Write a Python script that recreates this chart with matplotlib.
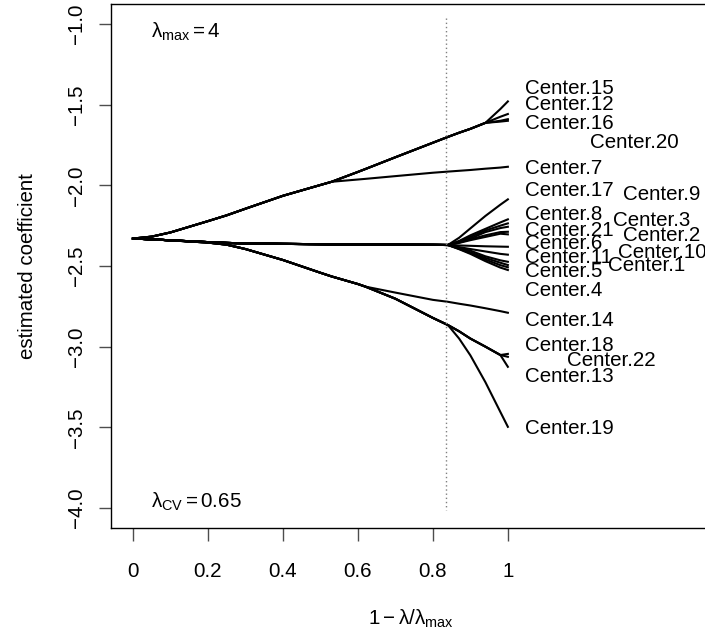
import numpy as np
import matplotlib
matplotlib.use("Agg")
import matplotlib.pyplot as plt

plt.rcParams["font.family"] = ["Liberation Sans", "DejaVu Sans"]
plt.rcParams["mathtext.fontset"] = "custom"
plt.rcParams["mathtext.rm"] = "Liberation Sans"
plt.rcParams["mathtext.it"] = "Liberation Sans"
plt.rcParams["mathtext.sf"] = "Liberation Sans"

FS = 14.8

# grid of 1 - lambda/lambda_max where the paths were read
head_steps = [0, 0.05, 0.1, 0.2, 0.25, 0.3, 0.4, 0.5, 0.53, 0.6, 0.62, 0.7, 0.8, 0.84]
tail_steps = [0.87, 0.9, 0.94, 0.98, 1.0]

# shared parts of the paths before they split
upper_head = [-2.33, -2.318, -2.292, -2.222, -2.186, -2.145, -2.065, -1.998,
              -1.978, -1.917, -1.899, -1.826, -1.736, -1.70]
center7_head = [-2.33, -2.318, -2.292, -2.222, -2.186, -2.145, -2.065, -1.998,
                -1.978, -1.964, -1.960, -1.943, -1.922, -1.915]
middle_head = [-2.33, -2.335, -2.341, -2.352, -2.357, -2.360, -2.363, -2.365,
               -2.366, -2.367, -2.367, -2.368, -2.369, -2.37]
lower_head = [-2.33, -2.335, -2.341, -2.355, -2.368, -2.395, -2.463, -2.542,
              -2.565, -2.612, -2.628, -2.703, -2.822, -2.866]
center14_head = [-2.33, -2.335, -2.341, -2.355, -2.368, -2.395, -2.463, -2.542,
                 -2.565, -2.612, -2.628, -2.665, -2.71, -2.722]

centers = ["Center.15", "Center.12", "Center.16", "Center.20", "Center.7",
           "Center.17", "Center.9", "Center.8", "Center.3", "Center.21",
           "Center.2", "Center.6", "Center.10", "Center.11", "Center.1",
           "Center.5", "Center.4", "Center.14", "Center.18", "Center.22",
           "Center.13", "Center.19"]
heads = ["upper", "upper", "upper", "upper", "c7",
         "middle", "middle", "middle", "middle", "middle",
         "middle", "middle", "middle", "middle", "middle",
         "middle", "middle", "c14", "lower", "lower",
         "lower", "lower"]
tails = [
    [-1.674, -1.65, -1.613, -1.527, -1.48],
    [-1.674, -1.65, -1.613, -1.575, -1.558],
    [-1.674, -1.65, -1.613, -1.605, -1.60],
    [-1.674, -1.65, -1.613, -1.60, -1.59],
    [-1.91, -1.905, -1.897, -1.89, -1.885],
    [-2.325, -2.267, -2.19, -2.12, -2.087],
    [-2.345, -2.31, -2.27, -2.23, -2.211],
    [-2.348, -2.32, -2.28, -2.25, -2.236],
    [-2.352, -2.33, -2.29, -2.265, -2.257],
    [-2.355, -2.335, -2.31, -2.29, -2.288],
    [-2.357, -2.34, -2.32, -2.30, -2.304],
    [-2.373, -2.375, -2.378, -2.38, -2.381],
    [-2.383, -2.395, -2.41, -2.425, -2.43],
    [-2.387, -2.405, -2.44, -2.465, -2.474],
    [-2.392, -2.415, -2.45, -2.48, -2.494],
    [-2.394, -2.42, -2.46, -2.495, -2.508],
    [-2.396, -2.425, -2.47, -2.51, -2.525],
    [-2.734, -2.745, -2.762, -2.78, -2.79],
    [-2.905, -2.95, -3.0, -3.052, -3.045],
    [-2.905, -2.95, -3.0, -3.052, -3.063],
    [-2.905, -2.95, -3.0, -3.052, -3.125],
    [-2.95, -3.054, -3.22, -3.405, -3.497],
]

# where the labels were placed (spread out to avoid overlap)
label_x = [1.045, 1.045, 1.045, 1.219, 1.045, 1.045, 1.306, 1.045, 1.28, 1.045,
           1.306, 1.045, 1.293, 1.045, 1.267, 1.045, 1.045, 1.045, 1.045, 1.157,
           1.045, 1.045]
label_y = [-1.397, -1.502, -1.614, -1.732, -1.893, -2.035, -2.054, -2.184,
           -2.221, -2.283, -2.314, -2.358, -2.414, -2.445, -2.494, -2.537,
           -2.649, -2.841, -2.99, -3.083, -3.182, -3.505]

lambda_max = 4
lambda_cv = 0.65
cv_frac = 0.835

head_map = {"upper": upper_head, "c7": center7_head, "middle": middle_head,
            "lower": lower_head, "c14": center14_head}

xticks = [0, 0.2, 0.4, 0.6, 0.8, 1]
xticklabels = ["0", "0.2", "0.4", "0.6", "0.8", "1"]
yticks = [-1.0, -1.5, -2.0, -2.5, -3.0, -3.5, -4.0]
yticklabels = ["\u22121.0", "\u22121.5", "\u22122.0", "\u22122.5",
               "\u22123.0", "\u22123.5", "\u22124.0"]

fig = plt.figure(figsize=(7.05, 6.32), dpi=100)
ax = fig.add_axes([0.1574, 0.1646, 0.8496, 0.8291])

x = np.array(head_steps + tail_steps)
for name, h, t in zip(centers, heads, tails):
    ax.plot(x, head_map[h] + t, color="black", lw=1.5, solid_joinstyle="round")

for name, lx, ly in zip(centers, label_x, label_y):
    ax.text(lx, ly, name, fontsize=FS, ha="left", va="center")

ax.plot([cv_frac, cv_frac], [-0.96, -4.01], color="0.5", lw=1.0,
        linestyle=(0, (1, 2)))

ax.text(0.047, -1.0825, r"$\lambda_{\mathrm{max}} = %d$" % lambda_max,
        fontsize=FS, ha="left", va="baseline")
ax.text(0.047, -4.0, r"$\lambda_{\mathrm{CV}} = %.2f$" % lambda_cv,
        fontsize=FS, ha="left", va="baseline")

ax.set_xlim(-0.0587, 1.539)
ax.set_ylim(-4.124, -0.876)

ax.spines["right"].set_visible(False)
for s in ["left", "top", "bottom"]:
    ax.spines[s].set_linewidth(1.0)

ax.set_xticks(xticks)
ax.set_xticklabels(xticklabels)
ax.set_yticks(yticks)
ax.set_yticklabels(yticklabels, rotation=90, va="center")
ax.tick_params(axis="both", direction="out", length=9, width=1.0,
               labelsize=FS, color="0.3")
ax.tick_params(axis="x", pad=15.5)
ax.tick_params(axis="y", pad=9)

ax.set_ylabel("estimated coefficient", fontsize=FS)
ax.yaxis.set_label_coords(-0.123, 0.5)
ax.set_xlabel(r"$1 - \lambda/\lambda_{\mathrm{max}}$", fontsize=FS)
ax.xaxis.set_label_coords(0.5, -0.152)

fig.savefig("out.png", dpi=100)
